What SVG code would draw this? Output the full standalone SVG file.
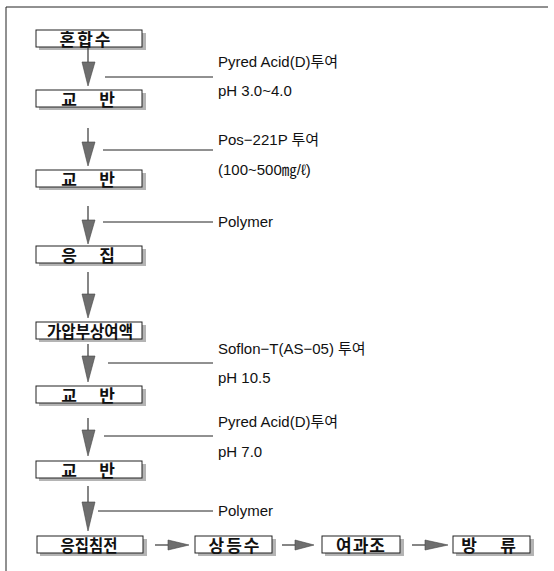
<svg xmlns="http://www.w3.org/2000/svg" width="554" height="571" viewBox="0 0 554 571">
<defs>
<style>
.box{fill:#fff;stroke:#222;stroke-width:1}
.sh{fill:#b4b4b4}
.bl{font-family:"Noto Sans CJK KR","Liberation Sans",sans-serif;font-weight:bold;font-size:17px;fill:#111;text-anchor:middle;dominant-baseline:central}
.lb{font-family:"Liberation Sans","Noto Sans CJK KR",sans-serif;font-size:15px;fill:#111}
.ln{stroke:#222;stroke-width:1;fill:none}
.sf{stroke:#444;stroke-width:1.3}
.hd{fill:#6e6e6e;stroke:#444;stroke-width:0.6}
</style>
</defs>
<rect width="554" height="571" fill="#fff"/>
<g id="frame">
<line class="ln" x1="6" y1="7" x2="548" y2="7"/>
<line class="ln" x1="6" y1="7" x2="6" y2="571"/>
</g>
<g id="n1"><rect class="sh" x="39" y="33" width="107" height="17"/><rect class="box" x="36" y="30" width="106" height="17"/><text class="bl" x="86" y="38.5" letter-spacing="2">혼합수</text></g>
<g id="n2"><rect class="sh" x="39" y="93" width="107" height="17"/><rect class="box" x="36" y="90" width="106" height="17"/><text class="bl" x="69" y="98.5">교</text><text class="bl" x="107" y="98.5">반</text></g>
<g id="n3"><rect class="sh" x="39" y="173" width="107" height="17"/><rect class="box" x="36" y="170" width="106" height="17"/><text class="bl" x="69" y="178.5">교</text><text class="bl" x="107" y="178.5">반</text></g>
<g id="n4"><rect class="sh" x="39" y="249" width="107" height="17"/><rect class="box" x="36" y="246" width="106" height="17"/><text class="bl" x="69" y="254.5">응</text><text class="bl" x="107" y="254.5">집</text></g>
<g id="n5"><rect class="sh" x="39" y="325" width="107" height="17"/><rect class="box" x="36" y="322" width="106" height="17"/><text class="bl" x="90" y="330.5" textLength="86" lengthAdjust="spacingAndGlyphs">가압부상여액</text></g>
<g id="n6"><rect class="sh" x="39" y="389" width="107" height="17"/><rect class="box" x="36" y="386" width="106" height="17"/><text class="bl" x="69" y="394.5">교</text><text class="bl" x="107" y="394.5">반</text></g>
<g id="n7"><rect class="sh" x="39" y="464" width="107" height="17"/><rect class="box" x="36" y="461" width="106" height="17"/><text class="bl" x="69" y="469.5">교</text><text class="bl" x="107" y="469.5">반</text></g>
<g id="n8"><rect class="sh" x="40" y="539" width="107" height="17"/><rect class="box" x="37" y="536" width="106" height="17"/><text class="bl" x="89" y="544.5" textLength="57" lengthAdjust="spacingAndGlyphs">응집침전</text></g>
<g id="n9"><rect class="sh" x="198" y="539" width="78" height="17"/><rect class="box" x="195" y="536" width="77" height="17"/><text class="bl" x="235" y="544.5" letter-spacing="2">상등수</text></g>
<g id="n10"><rect class="sh" x="325" y="539" width="79" height="17"/><rect class="box" x="322" y="536" width="78" height="17"/><text class="bl" x="361" y="544.5" letter-spacing="1">여과조</text></g>
<g id="n11"><rect class="sh" x="456" y="539" width="78" height="17"/><rect class="box" x="453" y="536" width="77" height="17"/><text class="bl" x="469" y="544.5">방</text><text class="bl" x="508" y="544.5">류</text></g>
<g id="connectors">
<line class="sf" x1="88" y1="48" x2="88" y2="64"/><polygon class="hd" points="82,62 95,62 88,86"/>
<line class="sf" x1="88" y1="128" x2="88" y2="144"/><polygon class="hd" points="82,142 95,142 88,166"/>
<line class="sf" x1="88" y1="206" x2="88" y2="222"/><polygon class="hd" points="82,220 95,220 88,244"/>
<line class="sf" x1="88" y1="272" x2="88" y2="296"/><polygon class="hd" points="82,294 95,294 88,318"/>
<line class="sf" x1="88" y1="344" x2="88" y2="358"/><polygon class="hd" points="82,356 95,356 88,382"/>
<line class="sf" x1="88" y1="418" x2="88" y2="432"/><polygon class="hd" points="82,430 95,430 88,456"/>
<line class="sf" x1="88" y1="486" x2="88" y2="504"/><polygon class="hd" points="82,502 95,502 88,531"/>
<line class="sf" x1="155" y1="545" x2="172" y2="545"/><polygon class="hd" points="168,540 168,550 189,545"/>
<line class="sf" x1="282" y1="545" x2="298" y2="545"/><polygon class="hd" points="295,540 295,550 314,545"/>
<line class="sf" x1="412" y1="545" x2="428" y2="545"/><polygon class="hd" points="425,540 425,550 448,545"/>
<line class="ln" x1="105" y1="77" x2="213" y2="77"/>
<line class="ln" x1="103" y1="150" x2="213" y2="150"/>
<line class="ln" x1="103" y1="222" x2="213" y2="222"/>
<line class="ln" x1="108" y1="363" x2="213" y2="363"/>
<line class="ln" x1="104" y1="436" x2="213" y2="436"/>
<line class="ln" x1="98" y1="511" x2="213" y2="511"/>
</g>
<g id="labels">
<text class="lb" x="218" y="67">Pyred Acid(D)투여</text>
<text class="lb" x="218" y="96">pH 3.0~4.0</text>
<text class="lb" x="218" y="145">Pos−221P 투여</text>
<text class="lb" x="218" y="175">(100~500㎎/ℓ)</text>
<text class="lb" x="218" y="227">Polymer</text>
<text class="lb" x="218" y="354">Soflon−T(AS−05) 투여</text>
<text class="lb" x="218" y="383">pH 10.5</text>
<text class="lb" x="218" y="427">Pyred Acid(D)투여</text>
<text class="lb" x="218" y="457">pH 7.0</text>
<text class="lb" x="218" y="516">Polymer</text>
</g>
</svg>
